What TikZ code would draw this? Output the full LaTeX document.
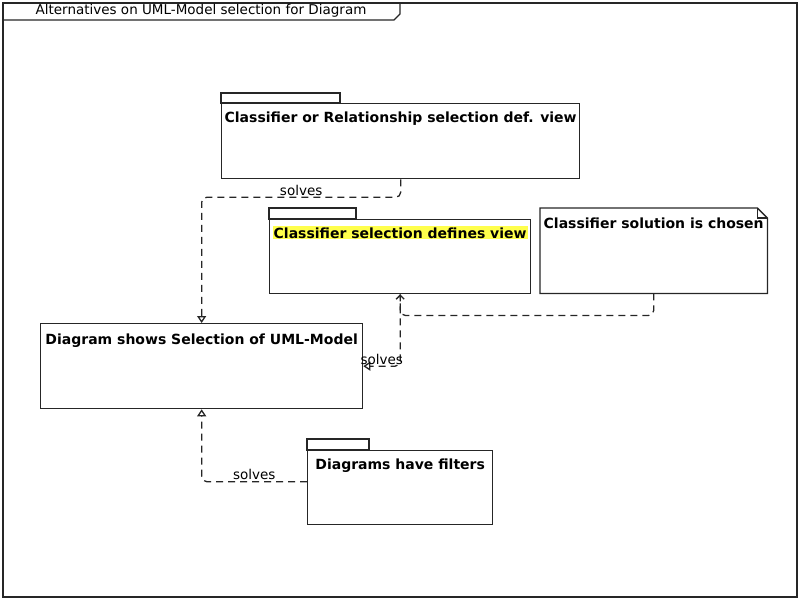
\documentclass[tikz,border=0pt]{standalone}
\usepackage{fontspec}
\setmainfont{DejaVu Sans}
\usetikzlibrary{arrows.meta,calc}
\definecolor{LineClr}{rgb}{0.15,0.15,0.15}
\definecolor{MarkClr}{rgb}{1,1,0.3}

\begin{document}
\begin{tikzpicture}[x=1pt,y=-1pt,
  pkgbox/.style={draw=LineClr,line width=1.3pt,inner sep=0pt,anchor=north west},
  pkgtab/.style={draw=LineClr,line width=1.3pt},
  boxtext/.style={font=\fontsize{14}{16}\selectfont\bfseries,anchor=base,inner sep=1pt},
  plaintext/.style={font=\fontsize{13.5}{16}\selectfont,inner sep=1pt},
  solves/.style={draw=LineClr,line width=1.3pt,dash pattern=on 7pt off 5pt,rounded corners=5pt,-{Triangle[open,length=7pt,width=9pt]}},
  traces/.style={draw=LineClr,line width=1.3pt,dash pattern=on 7pt off 5pt,rounded corners=5pt,-{Straight Barb[length=4pt,width=8pt]}}]
\useasboundingbox (0,0) rectangle (800,600);

\draw[pkgtab] (3,3) rectangle (797,597);
\draw[pkgtab] (3,20) -- (394,20) -- (400,14) -- (400,3);
\node[plaintext] (frameTitle) at (201,11) {Alternatives on UML-Model selection for Diagram};

\node[pkgbox,minimum width=358pt,minimum height=75pt] (relView) at (221,103) {};
\draw[pkgtab] (relView.north west) rectangle ++(119,-10);
\node[boxtext] (relViewT) at ($(relView.north)+(0,19)$) {Classifier or Relationship selection def. view};

\node[pkgbox,minimum width=261pt,minimum height=74pt] (defView) at (269,219) {};
\draw[pkgtab] (defView.north west) rectangle ++(87,-11);
\node[boxtext,fill=MarkClr] (defViewT) at ($(defView.north)+(0,19)$) {Classifier selection defines view};

\node[inner sep=0pt,anchor=north west,minimum width=227pt,minimum height=85pt] (chosen) at (540,208) {};
\draw[pkgtab] (chosen.north west) -- ([xshift=-10pt]chosen.north east) -- ([yshift=-10pt]chosen.north east)
  -- (chosen.south east) -- (chosen.south west) -- cycle;
\draw[pkgtab] ([xshift=-10pt]chosen.north east) |- ([yshift=-10pt]chosen.north east);
\node[boxtext] (chosenT) at ($(chosen.north)+(0,20)$) {Classifier solution is chosen};

\node[pkgbox,minimum width=322pt,minimum height=85pt] (diagram) at (40,323) {};
\node[boxtext] (diagramT) at ($(diagram.north)+(0,21)$) {Diagram shows Selection of UML-Model};

\node[pkgbox,minimum width=185pt,minimum height=74pt] (filters) at (307,450) {};
\draw[pkgtab] (filters.north west) rectangle ++(62,-11);
\node[boxtext] (filtersT) at ($(filters.north)+(0,19)$) {Diagrams have filters};

\draw[solves] (relView.south) -- ++(0,18) -| node[plaintext,pos=.25,above] (solvesA) {solves} (diagram.north);
\draw[solves] (defView.south) |- node[plaintext,pos=.75,above] (solvesB) {solves} (diagram.east);
\draw[traces] (chosen.south) -- ++(0,22) -| (defView.south);
\draw[solves] ([yshift=6pt]filters.west) -| node[plaintext,pos=.25,above] (solvesC) {solves} (diagram.south);

\end{tikzpicture}
\end{document}
